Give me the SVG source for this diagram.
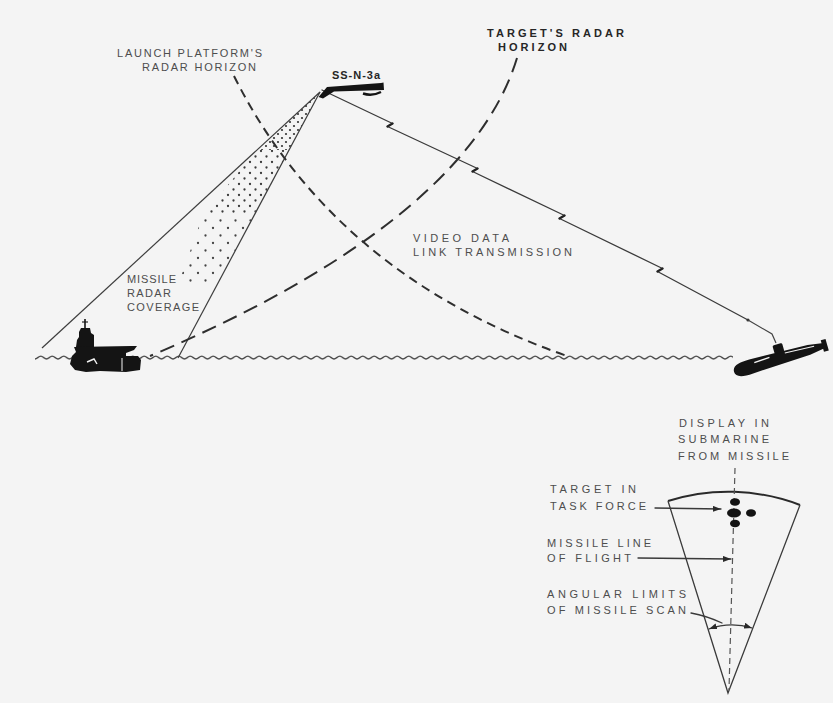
<svg xmlns="http://www.w3.org/2000/svg" width="833" height="703" viewBox="0 0 833 703">
  <defs>
    <style>
      .lbl { font-family: "Liberation Sans", Arial, sans-serif; font-size: 11px; fill: #4d4d4d; letter-spacing: 1px; }
      .dark { fill: #262626; font-weight: bold; }
      .ln { fill: none; stroke: #3a3a3a; stroke-width: 1.3; stroke-linecap: round; }
      .cov { fill: none; stroke: #3d3d3d; stroke-width: 1.2; }
      .hz-launch { fill: none; stroke: #2e2e2e; stroke-width: 2; stroke-dasharray: 9 6; }
      .hz-target { fill: none; stroke: #2e2e2e; stroke-width: 2; stroke-dasharray: 15 8; }
      .jog { fill: none; stroke: #222; stroke-width: 2.4; stroke-linecap: round; }
      .ink { fill: #141414; }
    </style>
    <marker id="arrow" viewBox="0 0 8 6" refX="8" refY="3" markerWidth="8" markerHeight="6" markerUnits="userSpaceOnUse" orient="auto-start-reverse">
      <path d="M0,0 L8,3 L0,6 Z" fill="#2a2a2a"/>
    </marker>
    <!-- stipple fills of decreasing density for the radar beam -->
    <pattern id="dotsDense" width="8" height="8" patternUnits="userSpaceOnUse">
      <circle cx="2" cy="2" r="1.1" fill="#333"/>
      <circle cx="6" cy="6" r="1.1" fill="#333"/>
    </pattern>
    <pattern id="dotsMid" width="11" height="11" patternUnits="userSpaceOnUse">
      <circle cx="2.5" cy="2.5" r="1.15" fill="#3a3a3a"/>
      <circle cx="8" cy="8" r="1.15" fill="#3a3a3a"/>
    </pattern>
    <pattern id="dotsSparse" width="15" height="15" patternUnits="userSpaceOnUse">
      <circle cx="3" cy="3" r="1.15" fill="#444"/>
      <circle cx="10.5" cy="10.5" r="1.15" fill="#444"/>
    </pattern>
    <!-- one swell of the sea surface -->
    <pattern id="waves" x="35" y="355" width="11.5" height="7" patternUnits="userSpaceOnUse">
      <path d="M0,4 C2,4 3.6,1.2 5.75,1.2 C7.9,1.2 9.5,4 11.5,4" fill="none" stroke="#444" stroke-width="1.3"/>
    </pattern>
  </defs>

  <rect width="833" height="703" fill="#f4f4f4"/>

  <!-- sea surface -->
  <rect id="sea" x="35" y="355" width="698" height="7" fill="url(#waves)"/>

  <g id="connectors">
    <!-- missile radar coverage beam -->
    <polygon points="320,92 257,150 289,150" fill="url(#dotsDense)"/>
    <polygon points="257,150 203,215 254,215 289,150" fill="url(#dotsMid)"/>
    <polygon points="203,215 178,285 217,285 254,215" fill="url(#dotsSparse)"/>
    <line class="cov" x1="320" y1="92" x2="42" y2="348"/>
    <line class="cov" x1="320" y1="92" x2="178" y2="358"/>

    <!-- launch platform's radar horizon -->
    <path class="hz-launch" d="M234,76 Q333,274 567,356"/>
    <!-- target's radar horizon -->
    <path class="hz-target" d="M517,58 C480,180 330,280 150,356"/>

    <!-- video data link, missile to submarine -->
    <path class="ln" d="M322,90 L392.5,123.5 M387.5,126.5 L477.5,168.5 M472.5,171.5 L564.5,215.5 M559.5,218.5 L662.5,268.5 M657.5,271.5 L748,320"/>
    <path class="jog" d="M392.5,123.5 L387.5,126.5 M477.5,168.5 L472.5,171.5 M564.5,215.5 L559.5,218.5 M662.5,268.5 L657.5,271.5"/>
    <circle cx="748" cy="320" r="1.6" fill="#333"/>
    <path d="M748,320 L772,334 L776,343" fill="none" stroke="#444" stroke-width="1.2"/>

    <!-- display callouts -->
    <line class="ln" x1="655" y1="508" x2="721" y2="509" marker-end="url(#arrow)"/>
    <line class="ln" x1="638" y1="558" x2="731" y2="559" marker-end="url(#arrow)"/>
    <path class="ln" d="M691,613 Q707,616 722,623"/>
    <path class="ln" d="M709,629 A67,67 0 0 1 752,628" marker-start="url(#arrow)" marker-end="url(#arrow)"/>
  </g>

  <!-- SS-N-3a cruise missile -->
  <g id="missile">
    <path d="M318.5,97 L327,87 L381,83 L383.5,82.5 L384,90 L334,91.5 L323,98.5 Z" class="ink"/>
    <path d="M363,93.5 Q372,96.5 381,92" fill="none" stroke="#141414" stroke-width="2.4"/>
    <text class="lbl dark" x="332" y="79" font-size="10" textLength="49" lengthAdjust="spacingAndGlyphs">SS-N-3a</text>
  </g>

  <!-- aircraft carrier (target) -->
  <g id="carrier">
    <line x1="85" y1="319" x2="85" y2="329" stroke="#141414" stroke-width="1.6"/>
    <line x1="82" y1="322" x2="88" y2="322" stroke="#141414" stroke-width="1.1"/>
    <path class="ink" d="M81,328 L90,328 L91,333 L94,335 L94,347 L76,347 L77,340 L79,337 L79,332 Z"/>
    <path class="ink" d="M74,347 L131,346 L137,346 L134,350 L126,353 L126,356 L138,356 L141,360 L140,370 L126,372 L100,371 L86,372 L75,370 L70,364 L72,356 L76,352 Z"/>
    <path d="M87,362 L94,359 L97,364" fill="none" stroke="#f4f4f4" stroke-width="1.4"/>
    <line x1="122" y1="358" x2="122" y2="371" stroke="#f4f4f4" stroke-width="1"/>
  </g>

  <!-- launching submarine -->
  <g id="submarine" transform="translate(780,358) rotate(-15.8)">
    <path class="ink" d="M-48,1 C-48,-6 -40,-7 -30,-7 L30,-5 L46,-2.5 L46,2.5 L30,5 L-30,7.5 C-42,8.5 -48,6 -48,1 Z"/>
    <rect class="ink" x="-4" y="-14" width="10" height="9" rx="1.5"/>
    <path class="ink" d="M44,-6 L49,-6 L49,6 L44,6 Z"/>
    <line x1="-26" y1="-2.5" x2="-10" y2="-3.5" stroke="#f4f4f4" stroke-width="1.4"/>
    <line x1="6" y1="-3.5" x2="36" y2="-2" stroke="#f4f4f4" stroke-width="1.2"/>
  </g>

  <!-- submarine display of the missile video -->
  <g id="display">
    <path d="M668,501 A201,201 0 0 1 800,505" fill="none" stroke="#2a2a2a" stroke-width="2"/>
    <path d="M668,501 L728,693 L800,505" fill="none" stroke="#3a3a3a" stroke-width="1.3"/>
    <line x1="735" y1="468" x2="729" y2="690" stroke="#555" stroke-width="1.2" stroke-dasharray="6 4"/>
    <ellipse class="ink" cx="735" cy="502" rx="5" ry="3.8"/>
    <ellipse class="ink" cx="734" cy="513" rx="7" ry="4.5"/>
    <ellipse class="ink" cx="751" cy="513" rx="5" ry="3.8"/>
    <ellipse class="ink" cx="735" cy="523.5" rx="5" ry="3.8"/>
  </g>

  <g id="labels">
    <text class="lbl" x="117" y="57" textLength="146">LAUNCH PLATFORM'S</text>
    <text class="lbl" x="142" y="71" textLength="115">RADAR HORIZON</text>
    <text class="lbl dark" x="487" y="37" textLength="138">TARGET'S RADAR</text>
    <text class="lbl dark" x="498" y="51" textLength="70">HORIZON</text>
    <text class="lbl" x="413" y="242" textLength="97">VIDEO DATA</text>
    <text class="lbl" x="413" y="256" textLength="160">LINK TRANSMISSION</text>
    <text class="lbl" x="127" y="283" textLength="50">MISSILE</text>
    <text class="lbl" x="127" y="297" textLength="45">RADAR</text>
    <text class="lbl" x="127" y="311" textLength="73">COVERAGE</text>
    <text class="lbl" x="679" y="427" textLength="91">DISPLAY IN</text>
    <text class="lbl" x="678" y="443" textLength="92">SUBMARINE</text>
    <text class="lbl" x="678" y="460" textLength="112">FROM MISSILE</text>
    <text class="lbl" x="550" y="493" textLength="87">TARGET IN</text>
    <text class="lbl" x="550" y="510" textLength="97">TASK FORCE</text>
    <text class="lbl" x="547" y="547" textLength="105">MISSILE LINE</text>
    <text class="lbl" x="547" y="562" textLength="85">OF FLIGHT</text>
    <text class="lbl" x="547" y="598" textLength="140">ANGULAR LIMITS</text>
    <text class="lbl" x="547" y="614" textLength="140">OF MISSILE SCAN</text>
  </g>
</svg>
